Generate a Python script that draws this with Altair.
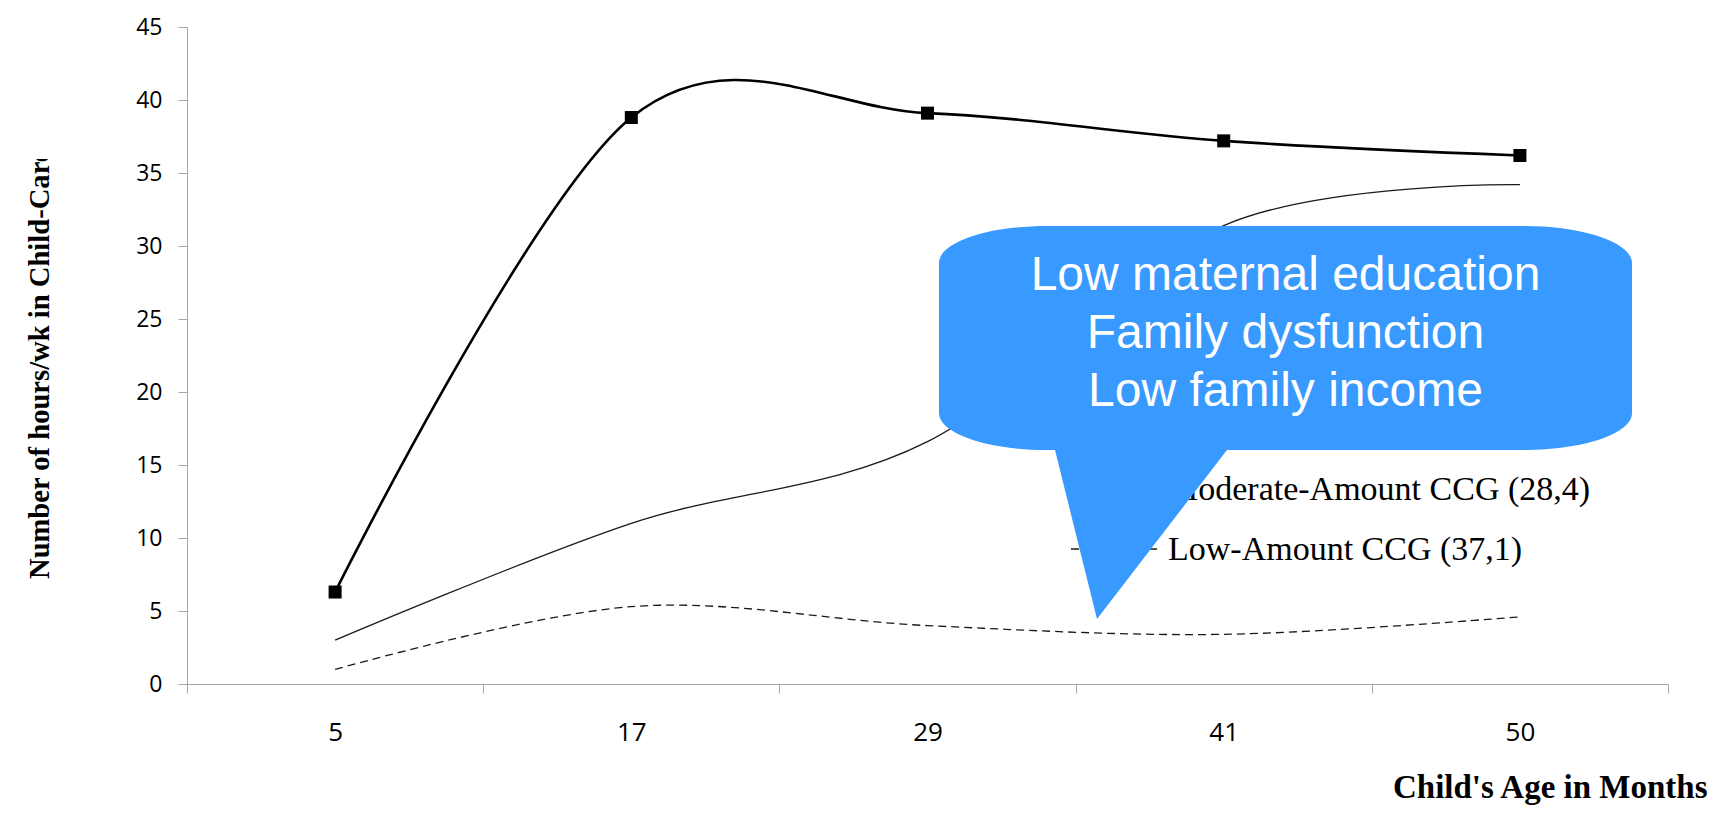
import altair as alt
import pandas as pd

# ---- data ----
ages = ["5", "17", "29", "41", "50"]
high = [6.3, 38.8, 39.1, 37.2, 36.2]
moderate = [3.0, 11.0, 16.6, 31.4, 34.2]
low = [1.0, 5.3, 4.0, 3.4, 4.6]
legend_labels = ["Moderate-Amount CCG (28,4)", "Low-Amount CCG (37,1)"]
callout_lines = ["Low maternal education", "Family dysfunction", "Low family income"]
y_ticks = [0, 5, 10, 15, 20, 25, 30, 35, 40, 45]
x_title = "Child's Age in Months"
y_title = "Number of hours/wk in Child-Care"

# ---- layout (page pixels) ----
W, H = 1481, 657
PL, PT = 187, 27          # page position of the plot's top-left corner


def px(v):
    return v - PL


def py(v):
    return v - PT


AXIS_GRAY = "#a6a6a6"

df_high = pd.DataFrame({"age": ages, "hours": high})
df_mod = pd.DataFrame({"age": ages, "hours": moderate})
df_low = pd.DataFrame({"age": ages, "hours": low})

X = alt.X(
    "age:O",
    sort=ages,
    scale=alt.Scale(type="band", domain=ages, paddingInner=0, paddingOuter=0),
    axis=alt.Axis(
        title=x_title,
        titleX=px(1707),
        titleY=113,
        titleAlign="right",
        titleBaseline="alphabetic",
        titleFont="Liberation Serif",
        titleFontSize=33,
        titleFontWeight="bold",
        titleColor="black",
        labelAngle=0,
        labelFont="Open Sans",
        labelFontSize=26,
        labelColor="black",
        labelPadding=26,
        tickSize=9,
        tickColor=AXIS_GRAY,
        domainColor=AXIS_GRAY,
        tickBand="extent",
        grid=False,
    ),
)
Y = alt.Y(
    "hours:Q",
    scale=alt.Scale(domain=[0, 45], nice=False, zero=True),
    axis=alt.Axis(
        values=y_ticks,
        title=None,
        labelFont="Open Sans",
        labelFontSize=23,
        labelColor="black",
        labelPadding=16,
        tickSize=9,
        tickColor=AXIS_GRAY,
        domainColor=AXIS_GRAY,
        grid=False,
    ),
)

line_high = alt.Chart(df_high).mark_line(
    color="black", strokeWidth=2.6, interpolate="cardinal", tension=0
).encode(x=X, y=Y)
pts_high = alt.Chart(df_high).mark_point(
    shape="square", size=169, filled=True, color="black", opacity=1
).encode(x=X, y=Y)
line_mod = alt.Chart(df_mod).mark_line(
    color="#1a1a1a", strokeWidth=1.3, interpolate="cardinal", tension=0
).encode(x=X, y=Y)
line_low = alt.Chart(df_low).mark_line(
    color="#1a1a1a", strokeWidth=1.3, strokeDash=[8, 5], interpolate="cardinal", tension=0
).encode(x=X, y=Y)

one = pd.DataFrame({"k": [0]})

# legend (partly hidden by the callout, as in the reference)
leg_sym_mod = alt.Chart(one).mark_rule(color="#1a1a1a", strokeWidth=1.3).encode(
    x=alt.value(px(1071)), x2=alt.value(px(1162)), y=alt.value(py(489))
)
leg_sym_low = alt.Chart(one).mark_rule(color="#1a1a1a", strokeWidth=1.3, strokeDash=[8, 5]).encode(
    x=alt.value(px(1071)), x2=alt.value(px(1162)), y=alt.value(py(549))
)
leg_txt_mod = alt.Chart(one).mark_text(
    font="Liberation Serif", fontSize=34, color="black", align="left", baseline="alphabetic"
).encode(x=alt.value(px(1168)), y=alt.value(py(500)), text=alt.value(legend_labels[0]))
leg_txt_low = alt.Chart(one).mark_text(
    font="Liberation Serif", fontSize=34, color="black", align="left", baseline="alphabetic"
).encode(x=alt.value(px(1168)), y=alt.value(py(560)), text=alt.value(legend_labels[1]))

# y-axis title; the original is clipped at the top of its text box
y_title_mark = alt.Chart(one).mark_text(
    font="Liberation Serif", fontSize=28.6, fontWeight="bold", color="black",
    angle=270, align="left", baseline="middle"
).encode(x=alt.value(px(40)), y=alt.value(py(579)), text=alt.value(y_title))
y_title_clip = alt.Chart(one).mark_rect(color="white", opacity=1).encode(
    x=alt.value(px(15)), x2=alt.value(px(70)), y=alt.value(py(8)), y2=alt.value(py(159))
)

# speech-bubble callout (units of 100 px around its centre)
bubble_path = (
    "M-2.385,-1.12L2.385,-1.12A1.08,0.37,0,0,1,3.465,-0.75L3.465,0.75"
    "A1.08,0.37,0,0,1,2.385,1.12L-0.585,1.12L-1.885,2.81L-2.305,1.12L-2.385,1.12"
    "A1.08,0.37,0,0,1,-3.465,0.75L-3.465,-0.75A1.08,0.37,0,0,1,-2.385,-1.12Z"
)
bubble = alt.Chart(one).mark_point(
    shape=bubble_path, size=40000, filled=True, color="#3899fe", opacity=1, strokeWidth=0
).encode(x=alt.value(px(1285.5)), y=alt.value(py(338)))
bubble_text = alt.Chart(one).mark_text(
    font="Liberation Sans", fontSize=48, color="white", align="center",
    baseline="alphabetic", lineHeight=58
).encode(x=alt.value(px(1285.5)), y=alt.value(py(290)), text=alt.value(callout_lines))

chart = alt.layer(
    line_mod, line_low, line_high, pts_high,
    leg_sym_mod, leg_sym_low, leg_txt_mod, leg_txt_low,
    y_title_mark, y_title_clip, bubble, bubble_text,
).properties(
    width=W,
    height=H,
    autosize=alt.AutoSizeParams(type="none"),
    padding={"left": 179, "top": 19, "right": 45, "bottom": 134},
    background="white",
).configure_view(stroke=None)

chart.save("out.html", embed_options={"renderer": "svg", "actions": False})
